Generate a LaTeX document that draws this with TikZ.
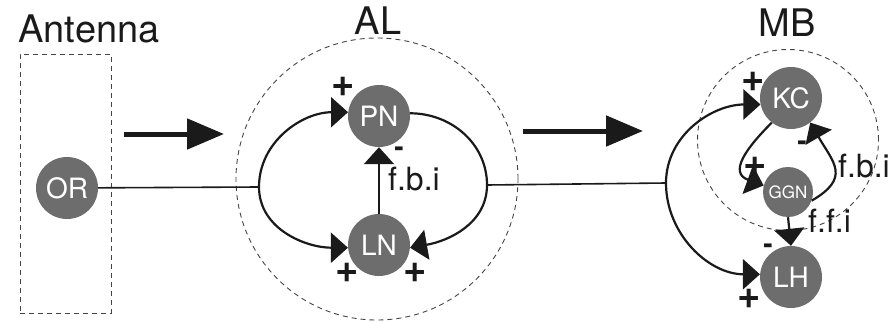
\documentclass[tikz,border=0pt]{standalone}
\usepackage{fontspec}
\setmainfont{TeX Gyre Heros}
\usetikzlibrary{arrows.meta}
\definecolor{Cell}{HTML}{6D6D6D}
\definecolor{Zone}{HTML}{444444}
\definecolor{Ink}{HTML}{1A1A1A}
\newcommand{\fs}[1]{\fontsize{#1}{#1}\selectfont}

\begin{document}
\begin{tikzpicture}[x=1pt,y=-1pt,
 cell/.style={circle,fill=Cell,text=white,minimum size=62pt,inner sep=0pt,font=\fs{28}},
 zone/.style={draw=Zone,line width=0.9pt,dash pattern=on 5pt off 4pt,inner sep=0pt},
 title/.style={anchor=base,inner sep=0pt,text=Ink,font=\fs{38}},
 lbl/.style={anchor=base west,inner sep=0pt,text=Ink,font=\fs{32}},
 sgn/.style={inner sep=0pt,text=Ink,font=\fs{40}\bfseries},
 neg/.style={anchor=base,inner sep=0pt,text=Ink,font=\fs{28}\bfseries},
 wire/.style={draw=Ink,line width=1.6pt},
 loop/.style={draw=Ink,line width=2.2pt},
 tip/.style={-{Triangle[length=17pt,width=30pt]}},
 tips/.style={{Triangle[length=17pt,width=30pt]}-{Triangle[length=17pt,width=30pt]}},
 flow/.style={draw=Ink,line width=5pt,-{Triangle[length=37pt,width=30pt]}}
]
\useasboundingbox (0,0) rectangle (890,321);
% regions
\node[zone,minimum width=91pt,minimum height=259pt] (antbox) at (65.5,183.5) {};
\node[zone,circle,minimum size=282pt] (alzone) at (377,179) {};
\node[zone,circle,minimum size=181pt] (mbzone) at (788,140) {};
\node[title] at (89,43) {Antenna};
\node[title] at (378,35) {AL};
\node[title] at (787,37) {MB};
% cells
\node[cell] (OR) at (67,188) {OR};
\node[cell] (PN) at (379,116) {PN};
\node[cell] (LN) at (379,245) {LN};
\node[cell] (KC) at (791,98) {KC};
\node[cell,minimum size=50pt,font=\fs{17}] (GGN) at (788,192) {GGN};
\node[cell] (LH) at (791,277) {LH};
% junctions
\coordinate (alin) at (259,187);
\coordinate (alout) at (487,185);
\coordinate (mbin) at (666,183);
\coordinate (fa1) at (124,134); \coordinate (fa2) at (224,134);
\coordinate (fb1) at (523,131); \coordinate (fb2) at (643,131);
% connectors
\draw[flow] (fa1)--(fa2);
\draw[flow] (fb1)--(fb2);
\draw[wire] (OR)--(alin);
\draw[wire] (alout)--(mbin);
\draw[loop,tips] (PN.173) to[out=180,in=90] (alin) to[out=-90,in=180] (LN.185);
\draw[loop,tip] (PN.5) to[out=0,in=90] (alout) to[out=-90,in=10] (LN.355);
\draw[loop,tip] (LN.north)--(PN.south);
\draw[loop,tips] (KC.192) to[out=180,in=90] (mbin) to[out=-90,in=180] (LH.175);
\draw[loop,tip] (KC.232) to[out=225,in=160,looseness=1.5] (GGN.165);
\draw[loop,tip] (GGN.-20) to[out=30,in=-60,looseness=1.5] (KC.-52);
\draw[loop,tip] (GGN.south)--(LH.north);
% labels
\node[lbl] at (388,190) {f.b.i};
\node[lbl] at (838,177) {f.b.i};
\node[lbl] at (808,232) {f.f.i};
\node[sgn] at (343,87) {+};
\node[sgn] at (347,273) {+};
\node[sgn] at (415,273) {+};
\node[sgn] at (753,82) {+};
\node[sgn] at (755,167) {+};
\node[sgn] at (749,299) {+};
\node[neg] at (399,156) {-};
\node[neg] at (802,150) {-};
\node[neg] at (768,253) {-};
\end{tikzpicture}
\end{document}
